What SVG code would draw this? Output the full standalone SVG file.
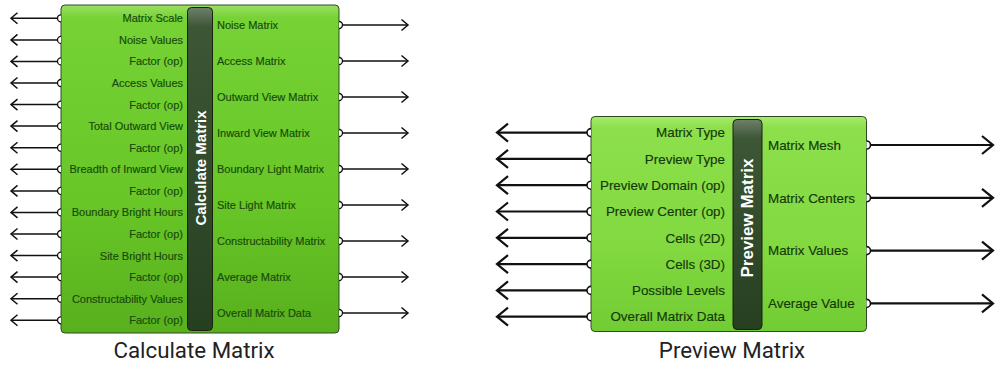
<svg xmlns="http://www.w3.org/2000/svg" width="995" height="367" viewBox="0 0 995 367">
<style>
.box{stroke:#2f4a22;stroke-width:1}
.band{stroke:#16240f;stroke-width:1}
.lbl{font-family:"Liberation Sans",Arial,sans-serif;font-size:11px;fill:#174a0b;stroke:#174a0b;stroke-width:0.15}
.lblR{font-family:"Liberation Sans",Arial,sans-serif;font-size:13.4px;fill:#15380a;stroke:#15380a;stroke-width:0.15}
.ttl{font-family:"Liberation Sans",Arial,sans-serif;font-weight:bold;fill:#ffffff}
.cap{font-family:Roboto,"Liberation Sans",sans-serif;font-size:22.3px;fill:#222222}
.port{fill:#ffffff;stroke:#111111;stroke-width:1.3}
.portR{fill:#ffffff;stroke:#111111;stroke-width:1.6}
.w1{fill:none;stroke:#111111;stroke-width:1.5}
.w2{fill:none;stroke:#111111;stroke-width:2.2}
</style>
<defs>
<linearGradient id="gL" x1="0" y1="0" x2="0" y2="1">
<stop offset="0" stop-color="#9be063"/>
<stop offset="0.04" stop-color="#76d235"/>
<stop offset="0.6" stop-color="#68c627"/>
<stop offset="1" stop-color="#58b01d"/>
</linearGradient>
<linearGradient id="gR" x1="0" y1="0" x2="0" y2="1">
<stop offset="0" stop-color="#a8ea70"/>
<stop offset="0.05" stop-color="#8de04c"/>
<stop offset="0.6" stop-color="#82d940"/>
<stop offset="1" stop-color="#72cc33"/>
</linearGradient>
<linearGradient id="gB" x1="0" y1="0" x2="0" y2="1">
<stop offset="0" stop-color="#6f7f6a"/>
<stop offset="0.06" stop-color="#3c5636"/>
<stop offset="1" stop-color="#253f20"/>
</linearGradient>
<linearGradient id="gB2" x1="0" y1="0" x2="0" y2="1">
<stop offset="0" stop-color="#6f7f6a"/>
<stop offset="0.09" stop-color="#3c5636"/>
<stop offset="1" stop-color="#253f20"/>
</linearGradient>
<marker id="aS" markerUnits="userSpaceOnUse" markerWidth="12" markerHeight="12" refX="0" refY="0" orient="auto" overflow="visible">
<path d="M-6.5,-5.5 L0,0 L-6.5,5.5" fill="none" stroke="#111111" stroke-width="1.5"/>
</marker>
<marker id="aL" markerUnits="userSpaceOnUse" markerWidth="20" markerHeight="20" refX="0" refY="0" orient="auto" overflow="visible">
<path d="M-11,-9 L0,0 L-11,9" fill="none" stroke="#111111" stroke-width="2.2"/>
</marker>
</defs>

<g id="connectors">
<g class="w1" marker-end="url(#aS)">
<path d="M57.5,18.3 H11"/>
<path d="M57.5,39.9 H11"/>
<path d="M57.5,61.4 H11"/>
<path d="M57.5,83 H11"/>
<path d="M57.5,104.6 H11"/>
<path d="M57.5,126.1 H11"/>
<path d="M57.5,147.7 H11"/>
<path d="M57.5,169.3 H11"/>
<path d="M57.5,190.9 H11"/>
<path d="M57.5,212.4 H11"/>
<path d="M57.5,234 H11"/>
<path d="M57.5,255.6 H11"/>
<path d="M57.5,277.1 H11"/>
<path d="M57.5,298.7 H11"/>
<path d="M57.5,320.3 H11"/>
<path d="M342.5,25 H408"/>
<path d="M342.5,61 H408"/>
<path d="M342.5,97 H408"/>
<path d="M342.5,133 H408"/>
<path d="M342.5,169 H408"/>
<path d="M342.5,205 H408"/>
<path d="M342.5,241 H408"/>
<path d="M342.5,277 H408"/>
<path d="M342.5,313 H408"/>
</g>
<g class="w2" marker-end="url(#aL)">
<path d="M587,132.6 H497"/>
<path d="M587,158.9 H497"/>
<path d="M587,185.2 H497"/>
<path d="M587,211.5 H497"/>
<path d="M587,237.8 H497"/>
<path d="M587,264.1 H497"/>
<path d="M587,290.4 H497"/>
<path d="M587,316.7 H497"/>
<path d="M870.5,145 H993"/>
<path d="M870.5,197.8 H993"/>
<path d="M870.5,250.6 H993"/>
<path d="M870.5,303.4 H993"/>
</g>
</g>

<g id="calculate-matrix">
<rect class="box" x="61" y="5" width="278" height="328" rx="4" fill="url(#gL)"/>
<rect class="band" x="187.5" y="7.5" width="25" height="323" rx="4" fill="url(#gB)"/>
<text class="ttl" font-size="15" transform="translate(200,168) rotate(-90)" text-anchor="middle" dominant-baseline="central">Calculate Matrix</text>
<g class="port">
<path d="M61,14.8 A3.5,3.5 0 0 0 61,21.8"/>
<path d="M61,36.4 A3.5,3.5 0 0 0 61,43.4"/>
<path d="M61,57.9 A3.5,3.5 0 0 0 61,64.9"/>
<path d="M61,79.5 A3.5,3.5 0 0 0 61,86.5"/>
<path d="M61,101.1 A3.5,3.5 0 0 0 61,108.1"/>
<path d="M61,122.6 A3.5,3.5 0 0 0 61,129.6"/>
<path d="M61,144.2 A3.5,3.5 0 0 0 61,151.2"/>
<path d="M61,165.8 A3.5,3.5 0 0 0 61,172.8"/>
<path d="M61,187.4 A3.5,3.5 0 0 0 61,194.4"/>
<path d="M61,208.9 A3.5,3.5 0 0 0 61,215.9"/>
<path d="M61,230.5 A3.5,3.5 0 0 0 61,237.5"/>
<path d="M61,252.1 A3.5,3.5 0 0 0 61,259.1"/>
<path d="M61,273.6 A3.5,3.5 0 0 0 61,280.6"/>
<path d="M61,295.2 A3.5,3.5 0 0 0 61,302.2"/>
<path d="M61,316.8 A3.5,3.5 0 0 0 61,323.8"/>
<path d="M339,21.5 A3.5,3.5 0 0 1 339,28.5"/>
<path d="M339,57.5 A3.5,3.5 0 0 1 339,64.5"/>
<path d="M339,93.5 A3.5,3.5 0 0 1 339,100.5"/>
<path d="M339,129.5 A3.5,3.5 0 0 1 339,136.5"/>
<path d="M339,165.5 A3.5,3.5 0 0 1 339,172.5"/>
<path d="M339,201.5 A3.5,3.5 0 0 1 339,208.5"/>
<path d="M339,237.5 A3.5,3.5 0 0 1 339,244.5"/>
<path d="M339,273.5 A3.5,3.5 0 0 1 339,280.5"/>
<path d="M339,309.5 A3.5,3.5 0 0 1 339,316.5"/>
</g>
<g class="lbl" text-anchor="end">
<text x="183" y="22.3">Matrix Scale</text>
<text x="183" y="43.9">Noise Values</text>
<text x="183" y="65.4">Factor (op)</text>
<text x="183" y="87">Access Values</text>
<text x="183" y="108.6">Factor (op)</text>
<text x="183" y="130.1">Total Outward View</text>
<text x="183" y="151.7">Factor (op)</text>
<text x="183" y="173.3">Breadth of Inward View</text>
<text x="183" y="194.9">Factor (op)</text>
<text x="183" y="216.4">Boundary Bright Hours</text>
<text x="183" y="238">Factor (op)</text>
<text x="183" y="259.6">Site Bright Hours</text>
<text x="183" y="281.1">Factor (op)</text>
<text x="183" y="302.7">Constructability Values</text>
<text x="183" y="324.3">Factor (op)</text>
</g>
<g class="lbl">
<text x="217" y="29">Noise Matrix</text>
<text x="217" y="65">Access Matrix</text>
<text x="217" y="101">Outward View Matrix</text>
<text x="217" y="137">Inward View Matrix</text>
<text x="217" y="173">Boundary Light Matrix</text>
<text x="217" y="209">Site Light Matrix</text>
<text x="217" y="245">Constructability Matrix</text>
<text x="217" y="281">Average Matrix</text>
<text x="217" y="317">Overall Matrix Data</text>
</g>
<text class="cap" x="194" y="358" text-anchor="middle">Calculate Matrix</text>
</g>

<g id="preview-matrix">
<rect class="box" x="591" y="116.5" width="275.5" height="215" rx="4" fill="url(#gR)"/>
<rect class="band" x="733" y="119.5" width="29" height="210" rx="4" fill="url(#gB2)"/>
<text class="ttl" font-size="17" transform="translate(747.5,218) rotate(-90)" text-anchor="middle" dominant-baseline="central">Preview Matrix</text>
<g class="portR">
<path d="M591,128.6 A4,4 0 0 0 591,136.6"/>
<path d="M591,154.9 A4,4 0 0 0 591,162.9"/>
<path d="M591,181.2 A4,4 0 0 0 591,189.2"/>
<path d="M591,207.5 A4,4 0 0 0 591,215.5"/>
<path d="M591,233.8 A4,4 0 0 0 591,241.8"/>
<path d="M591,260.1 A4,4 0 0 0 591,268.1"/>
<path d="M591,286.4 A4,4 0 0 0 591,294.4"/>
<path d="M591,312.7 A4,4 0 0 0 591,320.7"/>
<path d="M866.5,141 A4,4 0 0 1 866.5,149"/>
<path d="M866.5,193.8 A4,4 0 0 1 866.5,201.8"/>
<path d="M866.5,246.6 A4,4 0 0 1 866.5,254.6"/>
<path d="M866.5,299.4 A4,4 0 0 1 866.5,307.4"/>
</g>
<g class="lblR" text-anchor="end">
<text x="725" y="137.3">Matrix Type</text>
<text x="725" y="163.6">Preview Type</text>
<text x="725" y="189.9">Preview Domain (op)</text>
<text x="725" y="216.2">Preview Center (op)</text>
<text x="725" y="242.5">Cells (2D)</text>
<text x="725" y="268.8">Cells (3D)</text>
<text x="725" y="295.1">Possible Levels</text>
<text x="725" y="321.4">Overall Matrix Data</text>
</g>
<g class="lblR">
<text x="768" y="149.7">Matrix Mesh</text>
<text x="768" y="202.5">Matrix Centers</text>
<text x="768" y="255.3">Matrix Values</text>
<text x="768" y="308.1">Average Value</text>
</g>
<text class="cap" x="732" y="358" text-anchor="middle">Preview Matrix</text>
</g>
</svg>
